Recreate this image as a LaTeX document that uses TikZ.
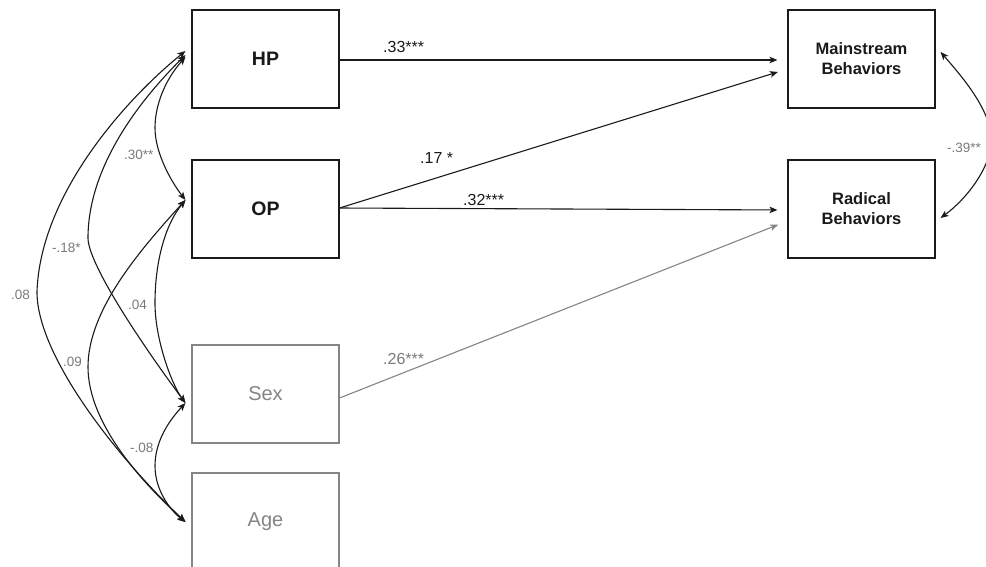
\documentclass[tikz,border=0pt]{standalone}
\usepackage{fontspec}
\setmainfont{Liberation Sans}
\usetikzlibrary{arrows.meta,calc}
\definecolor{ln}{HTML}{1A1A1A}
\definecolor{gr}{HTML}{858585}
\definecolor{lab}{HTML}{7A7A7A}
\begin{document}
\begin{tikzpicture}[x=1pt,y=-1pt,
  box/.style={draw=ln,line width=1.1pt,minimum width=147pt,minimum height=98pt,inner sep=0pt,align=center,text=ln},
  gbox/.style={box,draw=gr,text=gr,font=\fontsize{20}{22}\selectfont},
  bigb/.style={font=\fontsize{19.5}{22}\selectfont\bfseries},
  outb/.style={font=\fontsize{16.5}{20}\selectfont\bfseries},
  path/.style={draw=ln,line width=1.1pt,-{Stealth[length=8pt,width=6.5pt,inset=2pt]}},
  cov/.style={draw=ln,line width=1.1pt,{Stealth[length=8pt,width=6.5pt,inset=2pt]}-{Stealth[length=8pt,width=6.5pt,inset=2pt]}},
  blab/.style={anchor=base west,inner sep=0pt,text=ln,font=\fontsize{16}{18}\selectfont},
  glab/.style={anchor=base west,inner sep=0pt,text=lab,font=\fontsize{13.5}{15}\selectfont}
]
\useasboundingbox (0,0) rectangle (986,566);
\fill[white] (0,0) rectangle (986,566);

\node[box,bigb] (HP) at (265.5,59) {HP};
\node[box,bigb] (OP) at (265.5,209) {OP};
\node[gbox] (Sex) at (265.5,394) {Sex};
\node[gbox] (Age) at (265.5,522) {Age};
\node[box,outb] (MB) at (861.5,59) {Mainstream\\Behaviors};
\node[box,outb] (RB) at (861.5,209) {Radical\\Behaviors};

% regression paths
\draw[path,shorten >=10pt] ($(HP.east)+(0,1)$) -- ($(MB.west)+(0,1)$);
\draw[path,shorten >=10pt] ($(OP.east)+(0,-1)$) -- ($(MB.west)+(0,10)$);
\draw[path,shorten >=10pt] ($(OP.east)+(0,-1)$) -- ($(RB.west)+(0,1)$);
\draw[path,draw=gr,shorten >=10pt,-{Stealth[length=8pt,width=6.5pt,inset=2pt,color=gr]}] ($(Sex.east)+(0,4)$) -- ($(RB.west)+(0,12)$);

% covariances
\draw[cov] ($(HP.west)+(-6,-2)$) .. controls (165,80) and (155,105) .. (155,128) .. controls (155,152) and (170,180) .. ($(OP.west)+(-6,-9)$);
\draw[cov] ($(HP.west)+(-6,-4)$) .. controls (135,105) and (88,170) .. (88,238) .. controls (88,262) and (135,335) .. ($(Sex.west)+(-6,9)$);
\draw[cov] ($(HP.west)+(-6,-8)$) .. controls (125,100) and (40,195) .. (37,292) .. controls (37,355) and (115,455) .. ($(Age.west)+(-6,0)$);
\draw[cov] ($(OP.west)+(-6,-9)$) .. controls (165,225) and (155,262) .. (155,303) .. controls (155,340) and (172,385) .. ($(Sex.west)+(-6,9)$);
\draw[cov] ($(OP.west)+(-6,-9)$) .. controls (140,250) and (88,310) .. (88,367) .. controls (88,425) and (145,485) .. ($(Age.west)+(-6,0)$);
\draw[cov] ($(Sex.west)+(-6,9)$) .. controls (165,425) and (155,445) .. (155,466) .. controls (155,490) and (170,510) .. ($(Age.west)+(-6,0)$);
\draw[cov] ($(MB.east)+(5,-7)$) .. controls (965,80) and (990,110) .. (992,140) .. controls (990,170) and (965,200) .. ($(RB.east)+(5,9)$);

% labels
\node[blab] (l33) at (383,52) {.33***};
\node[blab] (l17) at (420,163) {.17 *};
\node[blab] (l32) at (463,205) {.32***};
\node[blab,text=lab] (l26) at (383,364) {.26***};
\node[glab] (l30) at (124,159) {.30**};
\node[glab] (l18) at (52,252) {-.18*};
\node[glab] (l08) at (11,299) {.08};
\node[glab] (l04) at (128,309) {.04};
\node[glab] (l09) at (63,366) {.09};
\node[glab] (lm08) at (130,452) {-.08};
\node[glab] (l39) at (947,152) {-.39**};
\end{tikzpicture}
\end{document}
